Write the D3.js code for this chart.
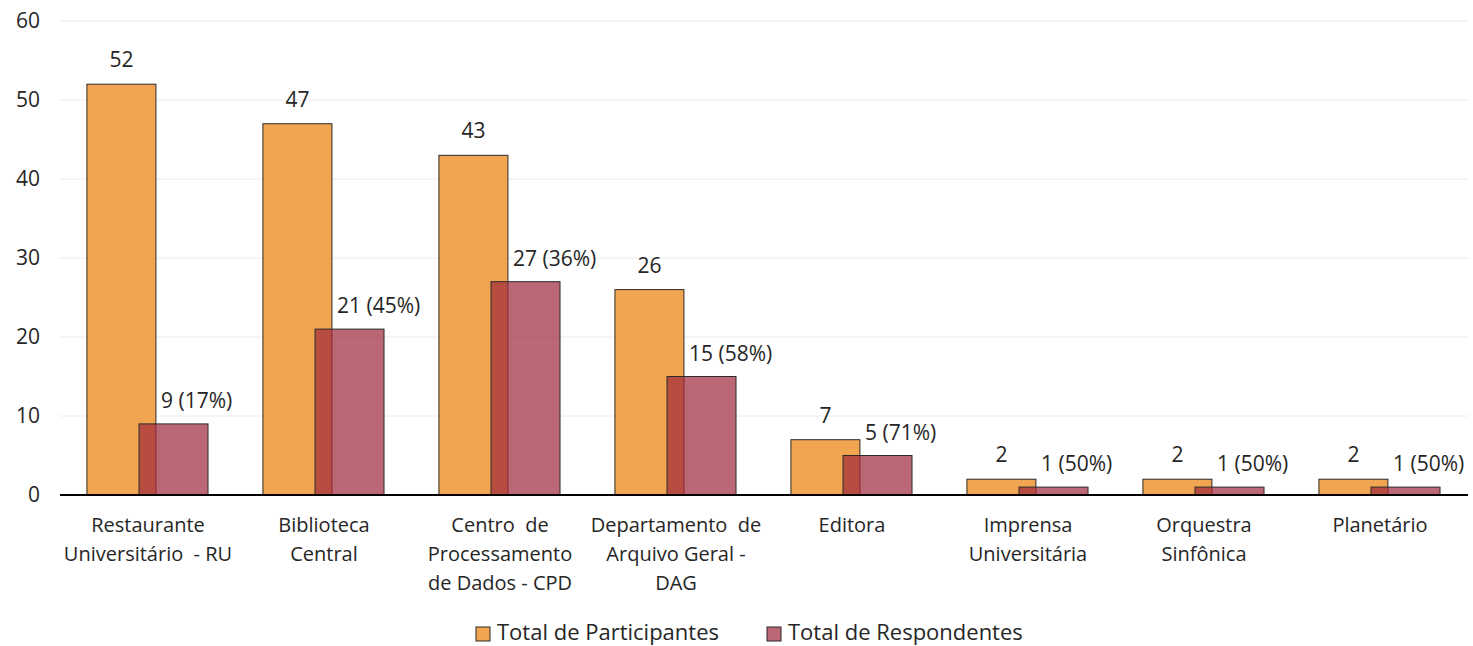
<!DOCTYPE html>
<html>
<head>
<meta charset="utf-8">
<script src="https://cdn.jsdelivr.net/npm/d3@7"></script>
<style>
  body { margin: 0; background: #fff; }
  svg text { font-family: "Open Sans", "Noto Sans", sans-serif; fill: #262626; white-space: pre; }
</style>
</head>
<body>
<svg id="chart" width="1473" height="646"></svg>
<script>
// Data
const categories = [
    ["Restaurante", "Universitário  - RU"],
    ["Biblioteca", "Central"],
    ["Centro  de", "Processamento", "de Dados - CPD"],
    ["Departamento  de", "Arquivo Geral -", "DAG"],
    ["Editora"],
    ["Imprensa", "Universitária"],
    ["Orquestra", "Sinfônica"],
    ["Planetário"]
];
const participantes = [52, 47, 43, 26, 7, 2, 2, 2];
const respondentes = [9, 21, 27, 15, 5, 1, 1, 1];
const percentLabels = ["17%", "45%", "36%", "58%", "71%", "50%", "50%", "50%"];
const yTicks = [0, 10, 20, 30, 40, 50, 60];
const seriesNames = ["Total de Participantes", "Total de Respondentes"];

const svg = d3.select("#chart");
const plot = { left: 60, right: 1468, top: 21, bottom: 495 };

var x = d3.scaleBand()
    .domain(d3.range(categories.length))
    .range([plot.left, plot.right])
    .padding(0);

var y = d3.scaleLinear()
    .domain([0, 60])
    .range([plot.bottom, plot.top]);

const step = x.step();
const barW = step * 0.392;
const orangeOff = step * 0.153;
const redOff = step * 0.449;

// Gridlines
svg.append("g")
    .selectAll("line")
    .data(yTicks.filter(d => d > 0))
    .enter()
    .append("line")
    .attr("x1", plot.left)
    .attr("x2", plot.right)
    .attr("y1", d => y(d))
    .attr("y2", d => y(d))
    .attr("stroke", "#ececec")
    .attr("stroke-width", 1);

// Y axis labels
svg.append("g")
    .attr("transform", "translate(40,0)")
    .call(d3.axisLeft(y).tickValues(yTicks).tickSize(0).tickPadding(0))
    .call(g => g.select(".domain").remove())
    .selectAll("text")
    .attr("font-size", "21px")
    .attr("font-family", null)
    .attr("fill", "#262626");

// Orange bars
svg.selectAll(".bar-p")
    .data(participantes)
    .enter()
    .append("rect")
    .attr("class", "bar-p")
    .attr("x", (d, i) => x(i) + orangeOff)
    .attr("y", d => y(d))
    .attr("width", barW)
    .attr("height", d => y(0) - y(d))
    .attr("fill", "#F2A550")
    .attr("stroke", "#2b2b2b")
    .attr("stroke-width", 1);

// Red bars (semi transparent)
svg.selectAll(".bar-r")
    .data(respondentes)
    .enter()
    .append("rect")
    .attr("class", "bar-r")
    .attr("x", (d, i) => x(i) + redOff)
    .attr("y", d => y(d))
    .attr("width", barW)
    .attr("height", d => y(0) - y(d))
    .attr("fill", "rgba(160, 38, 58, 0.7)")
    .attr("stroke", "#2b2b2b")
    .attr("stroke-width", 1);

// Baseline
svg.append("line")
    .attr("x1", plot.left)
    .attr("x2", plot.right)
    .attr("y1", y(0))
    .attr("y2", y(0))
    .attr("stroke", "#000")
    .attr("stroke-width", 2);

// Value labels
svg.selectAll(".lab-p")
    .data(participantes)
    .enter()
    .append("text")
    .attr("class", "lab-p")
    .attr("x", (d, i) => x(i) + orangeOff + barW / 2)
    .attr("y", d => y(d) - 17)
    .attr("text-anchor", "middle")
    .attr("font-size", "21px")
    .text(d => d);

svg.selectAll(".lab-r")
    .data(respondentes)
    .enter()
    .append("text")
    .attr("class", "lab-r")
    .attr("x", (d, i) => x(i) + redOff + 22)
    .attr("y", d => y(d) - 16)
    .attr("text-anchor", "start")
    .attr("font-size", "21px")
    .text((d, i) => d + " (" + percentLabels[i] + ")");

// Category labels
const cat = svg.selectAll(".cat")
    .data(categories)
    .enter()
    .append("text")
    .attr("class", "cat")
    .attr("text-anchor", "middle")
    .attr("font-size", "20px");

cat.selectAll("tspan")
    .data((d, i) => d.map(line => ({ line: line, i: i })))
    .enter()
    .append("tspan")
    .attr("x", d => x(d.i) + step / 2)
    .attr("y", (d, j) => 532 + j * 29)
    .text(d => d.line);

// Legend
const legend = svg.append("g");
const legendX = [476, 767];
const legendColors = ["#F2A550", "rgba(160, 38, 58, 0.7)"];
seriesNames.forEach((name, i) => {
    legend.append("rect")
        .attr("x", legendX[i])
        .attr("y", 627)
        .attr("width", 14)
        .attr("height", 14)
        .attr("fill", legendColors[i])
        .attr("stroke", "#2b2b2b")
        .attr("stroke-width", 1);
    legend.append("text")
        .attr("x", legendX[i] + 21)
        .attr("y", 640)
        .attr("font-size", "22px")
        .text(name);
});
</script>
</body>
</html>
